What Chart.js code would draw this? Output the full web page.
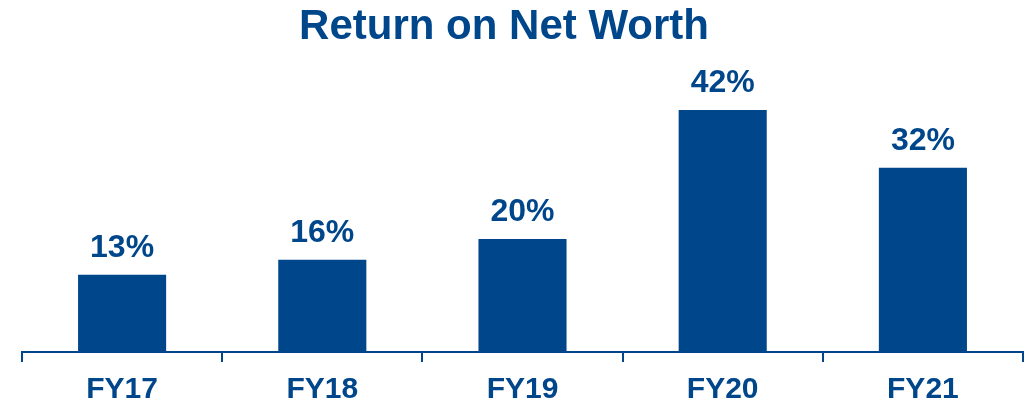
<!DOCTYPE html>
<html>
<head>
<meta charset="utf-8">
<script src="https://cdn.jsdelivr.net/npm/chart.js@4"></script>
<style>
  html, body { margin: 0; padding: 0; background: #fff; }
  #wrap { width: 1033px; height: 406px; }
</style>
</head>
<body>
<div id="wrap"><canvas id="rnwChart"></canvas></div>
<script>
// chart data (bar heights, labels are the rounded figures)
const years = ['FY17', 'FY18', 'FY19', 'FY20', 'FY21'];
const returnPct = [13.4, 16, 19.6, 42, 32];
const chartTitle = 'Return on Net Worth';

const navy = '#00468b';
const fontFam = '"Liberation Sans", Arial, sans-serif';

// title drawn by hand so it sits a bit left of the plot centre like the original
const titleDraw = {
  id: 'titleDraw',
  afterDraw(chart) {
    const ctx = chart.ctx;
    ctx.save();
    ctx.font = 'bold 42px ' + fontFam;
    ctx.fillStyle = navy;
    ctx.textAlign = 'center';
    ctx.textBaseline = 'alphabetic';
    ctx.fillText(chartTitle, 504, 39);
    ctx.restore();
  }
};

// draws the % labels above each bar
const barLabels = {
  id: 'barLabels',
  afterDatasetsDraw(chart) {
    const ctx = chart.ctx;
    const meta = chart.getDatasetMeta(0);
    ctx.save();
    ctx.font = 'bold 32px ' + fontFam;
    ctx.fillStyle = navy;
    ctx.textAlign = 'center';
    ctx.textBaseline = 'alphabetic';
    meta.data.forEach((bar, i) => {
      ctx.fillText(Math.round(returnPct[i]) + '%', bar.x, bar.y - 18);
    });
    ctx.restore();
  }
};

new Chart(document.getElementById('rnwChart'), {
  type: 'bar',
  data: {
    labels: years,
    datasets: [{
      data: returnPct,
      backgroundColor: navy,
      categoryPercentage: 1,
      barPercentage: 0.44
    }]
  },
  options: {
    responsive: true,
    maintainAspectRatio: false,
    animation: false,
    layout: { padding: { left: 22, right: 10, top: 64, bottom: 0 } },
    plugins: {
      legend: { display: false },
      tooltip: { enabled: false },
      title: { display: false }
    },
    scales: {
      x: {
        offset: true,
        // force the axis band so the baseline lands where the original has it
        afterFit(scale) { scale.height = 54; },
        grid: {
          offset: true,
          drawOnChartArea: false,
          drawTicks: true,
          tickLength: 10,
          color: navy,
          lineWidth: 2
        },
        border: { display: true, color: navy, width: 2 },
        ticks: {
          color: navy,
          padding: 10,
          font: { family: fontFam, size: 30, weight: 'bold' }
        }
      },
      y: {
        display: false,
        min: 0,
        max: 50
      }
    }
  },
  plugins: [barLabels, titleDraw]
});
</script>
</body>
</html>
